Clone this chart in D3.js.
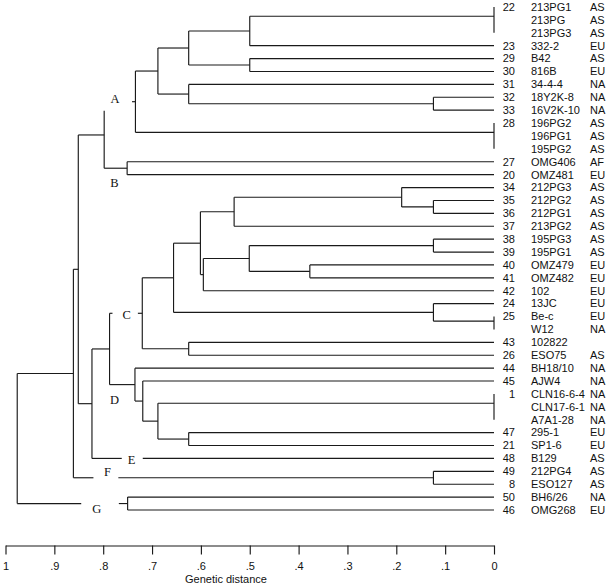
<!DOCTYPE html>
<html><head><meta charset="utf-8">
<script src="https://cdn.jsdelivr.net/npm/d3@7"></script>
<style>body{margin:0;background:#fff}</style>
</head><body><svg id="c" width="608" height="585"></svg>
<script>
// ---- data ----
const rowNumbers = ["22","","","23","29","30","31","32","33","28","","","27","20","34","35","36","37","38","39","40","41","42","24","25","","43","26","44","45","1","","","47","21","48","49","8","50","46"];
const rowNames = ["213PG1","213PG","213PG3","332-2","B42","816B","34-4-4","18Y2K-8","16V2K-10","196PG2","196PG1","195PG2","OMG406","OMZ481","212PG3","212PG2","212PG1","213PG2","195PG3","195PG1","OMZ479","OMZ482","102","13JC","Be-c","W12","102822","ESO75","BH18/10","AJW4","CLN16-6-4","CLN17-6-1","A7A1-28","295-1","SP1-6","B129","212PG4","ESO127","BH6/26","OMG268"];
const rowRegions = ["AS","AS","AS","EU","AS","EU","NA","NA","NA","AS","AS","AS","AF","EU","AS","AS","AS","AS","AS","AS","EU","EU","EU","EU","EU","NA","","AS","NA","NA","NA","NA","NA","EU","EU","AS","AS","AS","NA","EU"];
// [node, left child, right child, genetic distance of the merge]
const merges = [
  ["n1","22","23",0.50],
  ["n2","29","30",0.50],
  ["n3","n1","n2",0.625],
  ["n4","32","33",0.124],
  ["n5","31","n4",0.625],
  ["n6","n3","n5",0.688],
  ["A","n6","28",0.734],
  ["B","27","20",0.751],
  ["AB","A","B",0.798],
  ["n7","35","36",0.124],
  ["n8","34","n7",0.189],
  ["n9","n8","37",0.532],
  ["n10","38","39",0.124],
  ["n11","40","41",0.377],
  ["n12","n10","n11",0.501],
  ["n13","n12","42",0.595],
  ["n14","n9","n13",0.601],
  ["n15","24","25",0.124],
  ["n16","n14","n15",0.656],
  ["n17","43","26",0.625],
  ["C","n16","n17",0.72],
  ["n18","47","21",0.625],
  ["n19","1","n18",0.688],
  ["n20","45","n19",0.719],
  ["D","44","n20",0.735],
  ["CD","C","D",0.787],
  ["CDE","CD","48",0.823],
  ["ABCDE","AB","CDE",0.851],
  ["F","49","8",0.124],
  ["AF","ABCDE","F",0.861],
  ["G","50","46",0.75],
  ["root","AF","G",0.976]
];
const clusterNames = ["A","B","C","D","E","F","G"];
const clusterNodes = ["A","B","C","D","48","F","G"];
const axisTicks = [1,0.9,0.8,0.7,0.6,0.5,0.4,0.3,0.2,0.1,0];
const axisTitle = "Genetic distance";

// ---- layout (annotation placement, in distance units / px) ----
const labelLayout = {
  A:{at:0.776, dy:-3.5, gap:[0.798,0.741], trim:9},
  B:{at:0.777, dy:14.5},
  C:{at:0.752, dy:1.5, gap:[0.781,0.729]},
  D:{at:0.777, dy:15},
  E:{at:0.742, dy:1, gap:[0.762,0.719]},
  F:{at:0.791, dy:-5.7, gap:[0.820,0.769]},
  G:{at:0.813, dy:5, gap:[0.845,0.768]}
};

const svg = d3.select("#c");
const x = d3.scaleLinear().domain([1,0]).range([5.5,494]);
const rowY = d3.scaleLinear().domain([0,rowNames.length-1]).range([7,510]);
const sans = "'Liberation Sans', Arial, Helvetica, sans-serif";
const serif = "'Liberation Serif', 'Times New Roman', serif";
const stroke = "#1a1a1a", sw = 1.15;

// leaves
const nodes = {};
const leaves = [];
rowNumbers.forEach((n,i)=>{
  if(n!==""){ const lf={id:n, rows:[i], d:0}; leaves.push(lf); nodes[n]=lf; }
  else leaves[leaves.length-1].rows.push(i);
});
leaves.forEach(lf=>{
  const a=rowY(lf.rows[0]), b=rowY(lf.rows[lf.rows.length-1]);
  lf.y = a + 0.36*(b-a);
});
merges.forEach(([id,l,r,d])=>{
  nodes[id]={id, d, children:[nodes[l],nodes[r]], y:(nodes[l].y+nodes[r].y)/2};
});
const ann = {};
clusterNames.forEach((nm,i)=>{ ann[clusterNodes[i]] = Object.assign({name:nm}, labelLayout[nm]); });

const g = svg.append("g").attr("fill","none").attr("stroke",stroke).attr("stroke-width",sw);
const line=(x1,y1,x2,y2)=>g.append("line").attr("x1",x1).attr("y1",y1).attr("x2",x2).attr("y2",y2);

merges.forEach(([id])=>{
  const nd=nodes[id], [c1,c2]=nd.children;
  let top=Math.min(c1.y,c2.y), bot=Math.max(c1.y,c2.y);
  const topChild = c1.y<=c2.y?c1:c2;
  if(ann[topChild.id] && ann[topChild.id].trim) top += ann[topChild.id].trim;
  line(x(nd.d),top,x(nd.d),bot);
  nd.children.forEach(c=>{
    const a=ann[c.id];
    if(a && a.gap){
      if(x(a.gap[0])-x(nd.d)>0.5) line(x(nd.d),c.y,x(a.gap[0]),c.y);
      line(x(a.gap[1]),c.y,x(c.d),c.y);
    } else line(x(nd.d),c.y,x(c.d),c.y);
  });
});
// multi-row leaves: vertical bar at distance 0
leaves.filter(l=>l.rows.length>1).forEach(l=>{
  line(x(0),rowY(l.rows[0]),x(0),rowY(l.rows[l.rows.length-1]));
});

// cluster labels
Object.keys(ann).forEach(k=>{
  const a=ann[k], nd=nodes[k];
  svg.append("text").attr("x",x(a.at)).attr("y",nd.y+a.dy).attr("dy","0.35em")
    .attr("text-anchor","middle").attr("font-family",serif).attr("font-size",12.5)
    .attr("fill","#111").text(a.name);
});

// row labels
const lbl = svg.append("g").attr("font-family",sans).attr("font-size",11).attr("fill","#111");
rowNames.forEach((nm,i)=>{
  const y=rowY(i);
  if(rowNumbers[i]) lbl.append("text").attr("x",515).attr("y",y).attr("dy","0.35em").attr("text-anchor","end").text(rowNumbers[i]);
  lbl.append("text").attr("x",531).attr("y",y).attr("dy","0.35em").text(nm);
  if(rowRegions[i]) lbl.append("text").attr("x",590).attr("y",y).attr("dy","0.35em").text(rowRegions[i]);
});

// axis
const fmt = v => v===1?"1":v===0?"0":d3.format(".1f")(v).replace(/^0/,"");
const ax = svg.append("g").attr("transform","translate(0,545.5)")
  .call(d3.axisBottom(x).tickValues(axisTicks).tickFormat(fmt).tickSize(9).tickSizeOuter(0).tickPadding(8));
ax.select(".domain").attr("stroke",stroke).attr("stroke-width",sw);
ax.selectAll(".tick line").attr("stroke",stroke).attr("stroke-width",sw);
ax.selectAll(".tick text").attr("font-family",sans).attr("font-size",11).attr("fill","#111");
svg.append("text").attr("x",226).attr("y",579).attr("dy","0.35em").attr("text-anchor","middle")
  .attr("font-family",sans).attr("font-size",11).attr("fill","#111").text(axisTitle);
</script></body></html>
